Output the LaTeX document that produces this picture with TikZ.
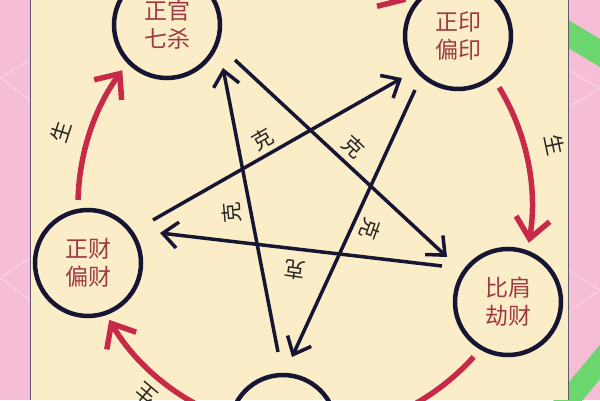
\documentclass[tikz,border=0pt]{standalone}
\usepackage{fontspec}
\newfontfamily\cjk{Noto Sans CJK SC}
\usetikzlibrary{arrows.meta,calc}
\definecolor{cream}{RGB}{251,237,200}
\definecolor{pinkbg}{RGB}{246,190,214}
\definecolor{pinkline}{RGB}{250,212,228}
\definecolor{greenband}{RGB}{108,214,110}
\definecolor{navy}{RGB}{22,22,52}
\definecolor{genred}{RGB}{198,42,72}
\definecolor{txtred}{RGB}{158,58,66}
\begin{document}
\begin{tikzpicture}[x=1pt,y=1pt,
  ring/.style={circle, draw=navy, line width=4.5pt, minimum size=106pt, inner sep=0pt,
    text=txtred, font=\cjk\fontsize{23}{28}\selectfont, align=center},
  gen/.style={genred, line width=5.5pt, -{Straight Barb[length=20pt,width=34pt]}},
  ke/.style={navy, line width=3.5pt, -{Straight Barb[length=15pt,width=26pt]}},
  lab/.style={font=\cjk\fontsize{21}{21}\selectfont, text=black!85, inner sep=0pt},
  deco/.style={pinkline, line width=1pt}]
\useasboundingbox (0,0) rectangle (600,400);
\clip (0,0) rectangle (600,400);
% background
\fill[pinkbg] (0,0) rectangle (600,400);
\draw[deco] (30,340) -- (0,322) -- (30,300);
\draw[deco] (30,142) -- (0,122) -- (30,100);
\draw[deco] (568,330) -- (600,312) -- (568,292);
\draw[deco] (568,130) -- (600,110) -- (568,88);
\draw[greenband, line width=24pt] (560,371) -- (610,341);
\draw[greenband, line width=22pt] (560,-10) -- (610,50);
\fill[cream] (30,0) rectangle (568,400);
\draw[navy!70, line width=0.8pt] (30,0) -- (30,400);
\draw[navy!70, line width=0.8pt] (568,0) -- (568,400);
% centre of the generating cycle
\coordinate (O) at (305,195);
% red generating arcs
\draw[gen] ($(O)+(178.7:227)$) arc[start angle=178.7, end angle=143.6, radius=227];
\draw[gen] ($(O)+(111.5:227)$) arc[start angle=111.5, end angle=63.5, radius=227];
\draw[gen] ($(O)+(31.2:227)$) arc[start angle=31.2, end angle=-9.6, radius=227];
\draw[gen] ($(O)+(-42:227)$) arc[start angle=-42, end angle=-79.7, radius=227];
\draw[gen] ($(O)+(-111.7:227)$) arc[start angle=-111.7, end angle=-149.6, radius=227];
% circles
\node[ring] (guan) at (167,375) {正官\\七杀};
\node[ring] (yin) at (458,364) {正印\\偏印};
\node[ring] (bijie) at (508,98) {比肩\\劫财};
\node[ring] (shishang) at (283,-28) {};
\node[ring] (cai) at (88,137) {正财\\偏财};
% star end points
\coordinate (a1) at (235,340); \coordinate (a2) at (447,143);
\coordinate (b1) at (442,134); \coordinate (b2) at (160,167);
\coordinate (c1) at (153,180); \coordinate (c2) at (402,322);
\coordinate (d1) at (415,310); \coordinate (d2) at (292,43);
\coordinate (e1) at (278,48);  \coordinate (e2) at (223,332);
\draw[ke] (a1) -- (a2);
\draw[ke] (b1) -- (b2);
\draw[ke] (c1) -- (c2);
\draw[ke] (d1) -- (d2);
\draw[ke] (e1) -- (e2);
% labels
\node[lab, rotate=30] (k1) at (263,261) {克};
\node[lab, rotate=-43] (k2) at (354,253) {克};
\node[lab, rotate=95] (k3) at (232,187) {克};
\node[lab, rotate=-110] (k4) at (370,171) {克};
\node[lab, rotate=172] (k5) at (295,130) {克};
\node[lab, rotate=72] (s1) at (61,268) {生};
\node[lab, rotate=-78] (s2) at (555,255) {生};
\node[lab, rotate=140] (s3) at (146,6) {生};
\end{tikzpicture}
\end{document}
